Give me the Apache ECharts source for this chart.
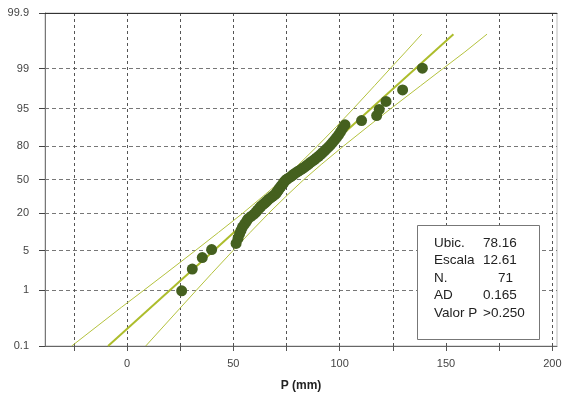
<!DOCTYPE html>
<html><head><meta charset="utf-8">
<script src="https://cdn.jsdelivr.net/npm/echarts@6/dist/echarts.min.js"></script>
<style>html,body{margin:0;padding:0;background:#fff}#c{width:569px;height:404px}</style>
</head><body><div id="c"></div>
<script>
// Observed values (mm), sorted, and their plotted percentages
const obsX = [25.7, 30.7, 35.4, 39.8,
  51.3, 52.2, 52.9, 53.6, 54.3, 55.3, 56.2, 56.9, 58.3, 59.7,
  60.7, 61.4, 62.3, 63.0, 64.0, 64.9, 65.8, 66.5, 67.5, 68.4,
  69.4, 70.1, 70.5, 71.0, 71.5, 71.9, 72.4, 72.9, 73.4, 73.8,
  74.3, 75.0, 75.9, 76.9, 77.8, 78.5, 79.5, 80.4, 81.6, 82.5,
  83.5, 84.4, 85.4, 86.1, 87.2, 88.2, 89.1, 90.1, 91.0, 91.9,
  92.9, 93.8, 94.8, 95.7, 96.6, 97.6, 98.5, 99.5, 100.4, 101.3,
  102.5,
  110.3, 117.4, 118.6, 121.8, 129.6, 138.9];
const obsPct = [0.98, 2.38, 3.78, 5.18, 6.58, 7.98, 9.38, 10.78, 12.18, 13.59,
  14.99, 16.39, 17.79, 19.19, 20.59, 21.99, 23.39, 24.79, 26.19, 27.59,
  28.99, 30.39, 31.79, 33.19, 34.59, 35.99, 37.39, 38.80, 40.20, 41.60,
  43.00, 44.40, 45.80, 47.20, 48.60, 50.00, 51.40, 52.80, 54.20, 55.60,
  57.00, 58.40, 59.80, 61.20, 62.61, 64.01, 65.41, 66.81, 68.21, 69.61,
  71.01, 72.41, 73.81, 75.21, 76.61, 78.01, 79.41, 80.81, 82.21, 83.61,
  85.01, 86.41, 87.82, 89.22, 90.62, 92.02, 93.42, 94.82, 96.22, 97.62, 99.02];
// Confidence band
const bandPct = [0.1, 0.5, 1, 2, 5, 10, 20, 35, 50, 65, 80, 90, 95, 98, 99, 99.5, 99.76];
const bandLo  = [-26.0, -2.5, 7.9, 18.3, 32.2, 43.0, 54.6, 65.0, 73.1, 80.7, 89.5, 98.5, 106.5, 116.4, 123.7, 131.0, 138.6];
const bandHi  = [8.8, 25.4, 32.6, 39.9, 49.9, 57.9, 66.8, 75.7, 83.2, 91.3, 101.8, 113.3, 124.1, 138.1, 148.5, 158.9, 169.3];
// Fitted line
const fitPct = [0.1, 99.76];
const fitX = [-8.9, 153.5];
// Axis ticks
const yTickPct = [0.1, 1, 5, 20, 50, 80, 95, 99, 99.9];
const yTickLabels = ['0.1', '1', '5', '20', '50', '80', '95', '99', '99.9'];
const xGridVals = [-25, 0, 25, 50, 75, 100, 125, 150, 175, 200];
const xLabelVals = [0, 50, 100, 150, 200];
const xAxisTitle = 'P (mm)';
// Statistics box
const statLabels = ['Ubic.', 'Escala', 'N.', 'AD', 'Valor P'];
const statValues = ['78.16', '12.61', '71', '0.165', '>0.250'];

function logit(pct) { const p = pct / 100; return Math.log(p / (1 - p)); }
const yTickVals = yTickPct.map(logit);
function pairs(xs, ps) { return xs.map((x, i) => [x, logit(ps[i])]); }

const chart = echarts.init(document.getElementById('c'), null, {renderer: 'canvas'});
const labelFont = {fontFamily: 'Liberation Sans', fontSize: 11, color: '#444'};

const graphics = [{
  type: 'rect', left: 417, top: 225, z: 100,
  shape: {width: 122, height: 114},
  style: {fill: '#fff', stroke: '#777', lineWidth: 1}
}];
statLabels.forEach((t, i) => {
  const y = 243 + i * 17.5;
  graphics.push({type: 'text', x: 434, y: y, z: 101,
    style: {text: t, font: '13.5px "Liberation Sans"', fill: '#222', verticalAlign: 'middle', align: 'left'}});
  const isInt = /^\d+$/.test(statValues[i]);
  graphics.push({type: 'text', x: isInt ? 513 : 483, y: y, z: 101,
    style: {text: statValues[i], font: '13.5px "Liberation Sans"', fill: '#222', verticalAlign: 'middle', align: isInt ? 'right' : 'left'}});
});

chart.setOption({
  animation: false,
  backgroundColor: '#fff',
  grid: {left: 45, right: 12, top: 13, bottom: 58, show: true, borderColor: '#bbb', borderWidth: 1},
  xAxis: [{
    type: 'value', min: -38.56, max: 202.2,
    name: xAxisTitle, nameLocation: 'middle', nameGap: 34,
    nameTextStyle: {fontFamily: 'Liberation Sans', fontSize: 12, fontWeight: 'bold', color: '#222'},
    axisLine: {show: true, onZero: false, lineStyle: {color: '#666', width: 1}},
    axisTick: {show: true, length: 5, customValues: xGridVals, lineStyle: {color: '#555'}},
    axisLabel: Object.assign({customValues: xLabelVals, margin: 12}, labelFont),
    splitLine: {show: true, lineStyle: {color: '#555', type: [3, 3], width: 1}}
  }, {
    type: 'value', position: 'top', min: -38.56, max: 202.2,
    axisLine: {show: true, onZero: false, lineStyle: {color: '#333', width: 1}},
    axisTick: {show: false}, axisLabel: {show: false}, splitLine: {show: false}
  }],
  yAxis: {
    type: 'value', min: logit(0.1), max: logit(99.9),
    axisLine: {show: true, onZero: false, lineStyle: {color: '#777', width: 1}},
    axisTick: {show: true, length: 6, customValues: yTickVals, lineStyle: {color: '#444'}},
    axisLabel: Object.assign({
      customValues: yTickVals, margin: 16,
      formatter: function (v) {
        let best = 0;
        yTickVals.forEach((t, i) => { if (Math.abs(t - v) < Math.abs(yTickVals[best] - v)) best = i; });
        return yTickLabels[best];
      }
    }, labelFont),
    splitLine: {show: true, lineStyle: {color: '#777', type: [4, 3], width: 1}}
  },
  series: [{
    type: 'line', data: pairs(bandLo, bandPct), showSymbol: false, symbol: 'none',
    lineStyle: {color: '#b4c23e', width: 1}, z: 2, silent: true
  }, {
    type: 'line', data: pairs(bandHi, bandPct), showSymbol: false, symbol: 'none',
    lineStyle: {color: '#b4c23e', width: 1}, z: 2, silent: true
  }, {
    type: 'line', data: pairs(fitX, fitPct), showSymbol: false, symbol: 'none',
    lineStyle: {color: '#adbd2c', width: 2}, z: 3, silent: true
  }, {
    type: 'scatter', data: pairs(obsX, obsPct), symbol: 'circle', symbolSize: 11,
    itemStyle: {color: '#45601f', opacity: 1}, z: 4
  }],
  graphic: graphics
});
</script>
</body></html>
